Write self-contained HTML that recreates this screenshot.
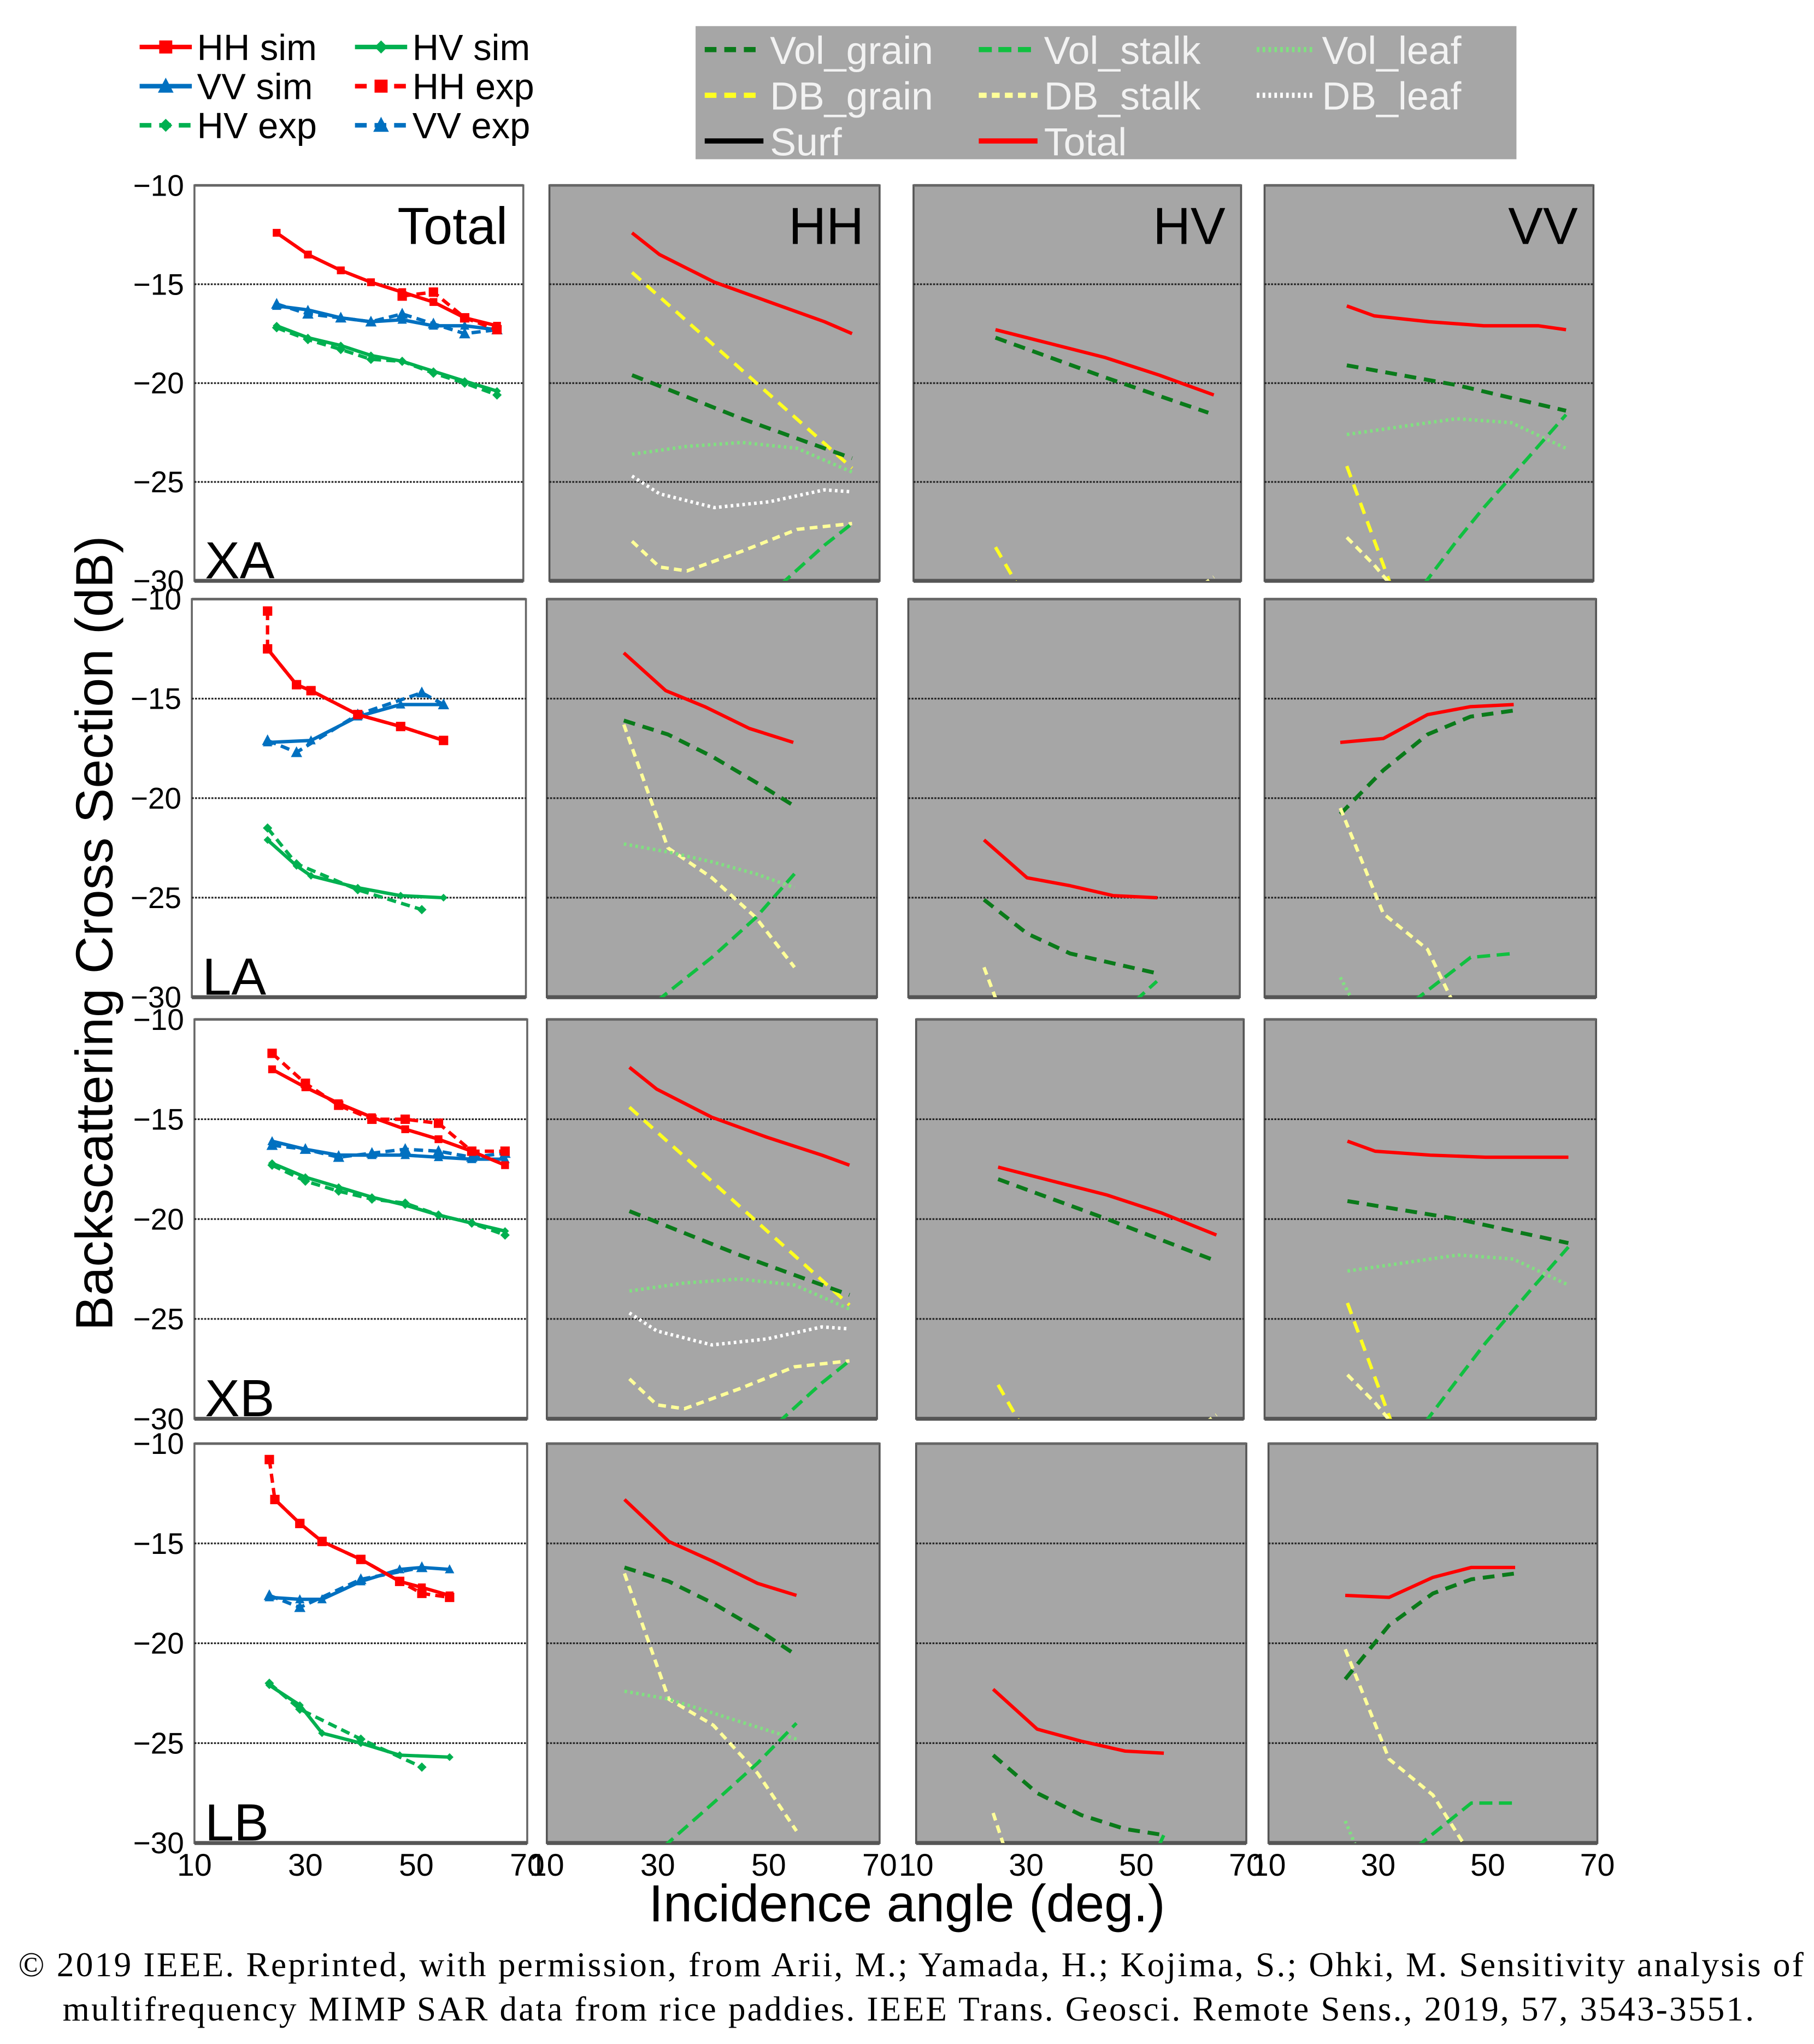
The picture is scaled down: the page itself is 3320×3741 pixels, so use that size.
<!DOCTYPE html>
<html><head><meta charset="utf-8"><style>
html,body{margin:0;padding:0;background:#fff}
svg{display:block}
text{font-family:"Liberation Sans",sans-serif}
</style></head><body>
<svg id="fig" xmlns="http://www.w3.org/2000/svg" width="3320" height="3741" viewBox="0 0 1390 1566" preserveAspectRatio="none">
<rect x="0" y="0" width="1390" height="1566" fill="#fff"/>
<g id="panels"></g>
<g id="legend-left"></g>
<g id="legend-right">
<rect x="533" y="20" width="629" height="102" fill="#a6a6a6"/>
</g>
<text x="0" y="0" transform="translate(86,715) rotate(-90)" text-anchor="middle" font-size="40" fill="#000">Backscattering Cross Section (dB)</text>
<text x="695" y="1472" text-anchor="middle" font-size="40" fill="#000">Incidence angle (deg.)</text>
<text x="14" y="1514" font-family="Liberation Serif" font-size="26.5" textLength="1368" lengthAdjust="spacing" fill="#000" style="font-family:'Liberation Serif',serif">© 2019 IEEE. Reprinted, with permission, from Arii, M.; Yamada, H.; Kojima, S.; Ohki, M. Sensitivity analysis of</text>
<text x="48" y="1548" font-size="26.5" textLength="1296" lengthAdjust="spacing" fill="#000" style="font-family:'Liberation Serif',serif">multifrequency MIMP SAR data from rice paddies. IEEE Trans. Geosci. Remote Sens., 2019, 57, 3543-3551.</text>
</svg>
<script>
// ---------- data (angle deg, dB) ----------
const yTicks = [-10, -15, -20, -25, -30];
const xTicks = [10, 30, 50, 70];
const rowNames = ["XA", "LA", "XB", "LB"];
const colNames = ["Total", "HH", "HV", "VV"];

// XA total
const xa_hh_sim = [[25,-12.4],[30.7,-13.5],[36.7,-14.3],[42.2,-14.9],[47.9,-15.4],[53.6,-15.9],[59.3,-16.7],[65.2,-17.1]];
const xa_hh_exp = [[47.9,-15.6],[53.6,-15.4],[59.3,-16.7],[65.2,-17.3]];
const xa_vv_sim = [[25,-16.1],[30.7,-16.3],[36.7,-16.7],[42.2,-16.9],[47.9,-16.8],[53.6,-17.1],[59.3,-17.1],[65.2,-17.3]];
const xa_vv_exp = [[25,-16.0],[30.7,-16.5],[36.7,-16.7],[42.2,-16.9],[47.9,-16.5],[53.6,-17.0],[59.3,-17.5],[65.2,-17.3]];
const xa_hv_sim = [[25,-17.1],[30.7,-17.7],[36.7,-18.1],[42.2,-18.6],[47.9,-18.9],[53.6,-19.4],[59.3,-19.9],[65.2,-20.4]];
const xa_hv_exp = [[25,-17.2],[30.7,-17.8],[36.7,-18.3],[42.2,-18.8],[47.9,-18.9],[53.6,-19.5],[59.3,-20.0],[65.2,-20.6]];
// LA total
const la_hh_sim = [[23.6,-12.5],[28.8,-14.3],[31.4,-14.6],[39.8,-15.8],[47.5,-16.4],[55.2,-17.1]];
const la_hh_exp = [[23.6,-10.6],[23.6,-12.5],[28.8,-14.3],[31.4,-14.6],[39.8,-15.8],[47.5,-16.4],[55.2,-17.1]];
const la_vv_sim = [[23.6,-17.2],[31.4,-17.1],[39.8,-15.9],[47.5,-15.3],[55.2,-15.3]];
const la_vv_exp = [[23.6,-17.1],[28.8,-17.7],[39.8,-15.8],[51.3,-14.7],[55.2,-15.3]];
const la_hv_sim = [[23.6,-22.1],[28.8,-23.4],[31.4,-23.9],[39.8,-24.5],[47.5,-24.9],[55.2,-25.0]];
const la_hv_exp = [[23.6,-21.5],[28.8,-23.3],[39.8,-24.6],[51.3,-25.6]];
// XB total
const xb_hh_sim = [[24,-12.5],[30,-13.4],[36,-14.2],[42,-14.9],[48,-15.5],[54,-16.0],[60,-16.6],[66,-17.3]];
const xb_hh_exp = [[24,-11.7],[30,-13.2],[36,-14.3],[42,-15.0],[48,-15.0],[54,-15.2],[60,-16.6],[66,-16.6]];
const xb_vv_sim = [[24,-16.1],[30,-16.5],[36,-16.8],[42,-16.8],[48,-16.8],[54,-16.9],[60,-17.0],[66,-17.0]];
const xb_vv_exp = [[24,-16.3],[30,-16.5],[36,-16.9],[42,-16.7],[48,-16.5],[54,-16.6],[60,-16.9],[66,-16.7]];
const xb_hv_sim = [[24,-17.2],[30,-17.9],[36,-18.4],[42,-18.9],[48,-19.3],[54,-19.8],[60,-20.2],[66,-20.6]];
const xb_hv_exp = [[24,-17.3],[30,-18.1],[36,-18.6],[42,-19.0],[48,-19.2],[54,-19.8],[60,-20.2],[66,-20.8]];
// LB total
const lb_hh_sim = [[24.5,-12.8],[29,-14.0],[33,-14.9],[40,-15.8],[47,-16.9],[51,-17.2],[56,-17.6]];
const lb_hh_exp = [[23.5,-10.8],[24.5,-12.8],[29,-14.0],[33,-14.9],[40,-15.8],[47,-16.9],[51,-17.5],[56,-17.7]];
const lb_vv_sim = [[23.5,-17.7],[29,-17.8],[33,-17.8],[40,-16.9],[47,-16.3],[51,-16.2],[56,-16.3]];
const lb_vv_exp = [[23.5,-17.6],[29,-18.2],[40,-16.8],[51,-16.2]];
const lb_hv_sim = [[23.5,-22.1],[29,-23.1],[33,-24.5],[40,-25.0],[47,-25.6],[56,-25.7]];
const lb_hv_exp = [[23.5,-22.0],[29,-23.3],[40,-24.8],[51,-26.2]];

// XA components
const xa_HH_total = [[25,-12.4],[30,-13.5],[40,-14.9],[50,-15.9],[60,-16.9],[65,-17.5]];
const xa_HH_dbgrain = [[25,-14.4],[65,-24.3]];
const xa_HH_volgrain = [[25,-19.6],[45,-21.8],[65,-23.8]];
const xa_HH_volleaf = [[25,-23.6],[35,-23.2],[45,-23.0],[55,-23.3],[65,-24.5]];
const xa_HH_dbleaf = [[25,-24.7],[30,-25.6],[40,-26.3],[50,-26.0],[60,-25.4],[65,-25.5]];
const xa_HH_dbstalk = [[25,-28.0],[30,-29.3],[35,-29.5],[45,-28.5],[55,-27.4],[65,-27.1]];
const xa_HH_volstalk = [[52,-30.2],[60,-28.2],[65,-27.1]];
const xa_HV_total = [[25,-17.3],[35,-18.0],[45,-18.7],[55,-19.6],[65,-20.6]];
const xa_HV_volgrain = [[25,-17.7],[45,-19.7],[64,-21.5]];
const xa_HV_dbgrain = [[25,-28.3],[29,-30.2]];
const xa_HV_dbstalk = [[63,-30.2],[65,-29.8]];
const xa_VV_total = [[25,-16.1],[30,-16.6],[40,-16.9],[50,-17.1],[60,-17.1],[65,-17.3]];
const xa_VV_volgrain = [[25,-19.1],[45,-20.1],[65,-21.4]];
const xa_VV_volleaf = [[25,-22.6],[35,-22.2],[45,-21.8],[55,-22.0],[65,-23.3]];
const xa_VV_volstalk = [[39,-30.2],[45,-28],[50,-26.3],[58,-23.8],[65,-21.6]];
const xa_VV_dbgrain = [[25,-24.2],[33,-30.2]];
const xa_VV_dbstalk = [[25,-27.8],[30,-29.2],[33,-30.2]];
// XB components
const xb_HH_total = [[25,-12.4],[30,-13.5],[40,-14.9],[50,-15.9],[60,-16.8],[65,-17.3]];
const xb_HV_total = [[25,-17.4],[35,-18.1],[45,-18.8],[55,-19.7],[65,-20.8]];
const xb_HV_volgrain = [[25,-18.0],[45,-20.0],[64,-22.0]];
const xb_VV_total = [[25,-16.1],[30,-16.6],[40,-16.8],[50,-16.9],[60,-16.9],[65,-16.9]];
const xb_VV_volgrain = [[25,-19.1],[45,-20.0],[65,-21.2]];
const xb_VV_volstalk = [[39,-30.2],[45,-28],[50,-26.2],[58,-23.6],[65,-21.4]];
// LA components
const la_HH_total = [[24,-12.7],[31.6,-14.6],[38.7,-15.4],[46.8,-16.5],[54.8,-17.2]];
const la_HH_volgrain = [[24,-16.1],[32,-16.8],[40,-17.9],[48,-19.2],[55,-20.4]];
const la_HH_dbstalk = [[24,-16.3],[32,-22.5],[40,-24.0],[48,-26.0],[55,-28.5]];
const la_HH_volleaf = [[24,-22.3],[32,-22.7],[40,-23.2],[48,-23.8],[55,-24.5]];
const la_HH_volstalk = [[30,-30.2],[40,-28],[48,-26],[55,-23.8]];
const la_HV_total = [[23.7,-22.1],[31.5,-24.0],[39.3,-24.4],[47.1,-24.9],[55.1,-25.0]];
const la_HV_volgrain = [[23.7,-25.1],[31.5,-26.8],[39.3,-27.8],[47.1,-28.3],[55,-28.8]];
const la_HV_dbstalk = [[23.7,-28.5],[26,-30.2]];
const la_HV_volstalk = [[51,-30.2],[55,-29.2]];
const la_VV_total = [[23.7,-17.2],[31.5,-17.0],[39.5,-15.8],[47.3,-15.4],[55.1,-15.3]];
const la_VV_volgrain = [[23.7,-20.8],[31.5,-18.6],[39.5,-16.8],[47.3,-15.9],[55.1,-15.6]];
const la_VV_dbstalk = [[23.7,-20.5],[31.5,-25.8],[39.5,-27.6],[44,-30.2]];
const la_VV_volstalk = [[37,-30.2],[47.3,-28.0],[55.1,-27.8]];
const la_VV_volleaf = [[23.7,-29.0],[26,-30.2]];
// LB components
const lb_HH_total = [[24,-12.8],[32,-14.9],[40,-15.9],[48,-17.0],[55,-17.6]];
const lb_HH_volgrain = [[24,-16.2],[32,-16.9],[40,-18.0],[48,-19.3],[55,-20.6]];
const lb_HH_dbstalk = [[24,-16.5],[32,-22.8],[40,-24.1],[48,-26.5],[55,-29.4]];
const lb_HH_volleaf = [[24,-22.4],[32,-22.8],[40,-23.5],[48,-24.2],[55,-24.8]];
const lb_HH_volstalk = [[31,-30.2],[40,-28],[48,-26],[55,-24.0]];
const lb_HV_total = [[24,-22.3],[32,-24.3],[40,-24.9],[48,-25.4],[55,-25.5]];
const lb_HV_volgrain = [[24,-25.6],[32,-27.5],[40,-28.6],[48,-29.3],[55,-29.6]];
const lb_HV_dbstalk = [[24,-28.5],[26,-30.2]];
const lb_HV_volstalk = [[54,-30.2],[55,-29.6]];
const lb_VV_total = [[24,-17.6],[32,-17.7],[40,-16.7],[47,-16.2],[55,-16.2]];
const lb_VV_volgrain = [[24,-21.8],[32,-19.1],[40,-17.5],[47,-16.8],[55,-16.5]];
const lb_VV_dbstalk = [[24,-20.3],[32,-25.8],[40,-27.6],[46,-30.2]];
const lb_VV_volstalk = [[37,-30.2],[47,-28.0],[55,-28.0]];
const lb_VV_volleaf = [[24,-28.9],[26,-30.2]];

// ---------- layout ----------
const NS = "http://www.w3.org/2000/svg";
const rowsY = [[142,445],[459,764],[781,1087],[1106,1412]];
const colsX = [
  [[149,401],[421,674],[700,951],[969,1221]],
  [[147,403],[419,672],[696,950],[969,1223]],
  [[149,404],[419,672],[702,953],[969,1223]],
  [[149,404],[419,674],[702,955],[972,1224]]
];
const STY = {
  total:{c:"#ff0000",w:2.6,d:""},
  volgrain:{c:"#0a7a1a",w:3,d:"9 6"},
  volstalk:{c:"#10c040",w:2.6,d:"10 5"},
  volleaf:{c:"#80e080",w:2.6,d:"2 2.5"},
  dbgrain:{c:"#ffff20",w:2.6,d:"9 6"},
  dbstalk:{c:"#ffff99",w:2.6,d:"6 4"},
  dbleaf:{c:"#ffffff",w:2.6,d:"2 2.5"}
};
function el(tag, attrs, parent){const e=document.createElementNS(NS,tag);for(const k in attrs)e.setAttribute(k,attrs[k]);if(parent)parent.appendChild(e);return e;}
function scales(r,c){const [x0,x1]=colsX[r][c],[y0,y1]=rowsY[r];
  return {x:a=>x0+(a-10)/60*(x1-x0), y:v=>y0+(-10-v)/20*(y1-y0), x0,x1,y0,y1};}
function pts(s,arr){return arr.map(p=>s.x(p[0]).toFixed(1)+","+s.y(p[1]).toFixed(1)).join(" ");}

const panelsG=document.getElementById("panels");
const comps = [
 {HH:{total:xa_HH_total,dbgrain:xa_HH_dbgrain,volgrain:xa_HH_volgrain,volleaf:xa_HH_volleaf,dbleaf:xa_HH_dbleaf,dbstalk:xa_HH_dbstalk,volstalk:xa_HH_volstalk},
  HV:{volgrain:xa_HV_volgrain,total:xa_HV_total,dbgrain:xa_HV_dbgrain,dbstalk:xa_HV_dbstalk},
  VV:{volgrain:xa_VV_volgrain,volleaf:xa_VV_volleaf,volstalk:xa_VV_volstalk,dbgrain:xa_VV_dbgrain,dbstalk:xa_VV_dbstalk,total:xa_VV_total}},
 {HH:{volgrain:la_HH_volgrain,dbstalk:la_HH_dbstalk,volleaf:la_HH_volleaf,volstalk:la_HH_volstalk,total:la_HH_total},
  HV:{volgrain:la_HV_volgrain,dbstalk:la_HV_dbstalk,volstalk:la_HV_volstalk,total:la_HV_total},
  VV:{volgrain:la_VV_volgrain,dbstalk:la_VV_dbstalk,volstalk:la_VV_volstalk,volleaf:la_VV_volleaf,total:la_VV_total}},
 {HH:{total:xb_HH_total,dbgrain:xa_HH_dbgrain,volgrain:xa_HH_volgrain,volleaf:xa_HH_volleaf,dbleaf:xa_HH_dbleaf,dbstalk:xa_HH_dbstalk,volstalk:xa_HH_volstalk},
  HV:{volgrain:xb_HV_volgrain,total:xb_HV_total,dbgrain:xa_HV_dbgrain,dbstalk:xa_HV_dbstalk},
  VV:{volgrain:xb_VV_volgrain,volleaf:xa_VV_volleaf,volstalk:xb_VV_volstalk,dbgrain:xa_VV_dbgrain,dbstalk:xa_VV_dbstalk,total:xb_VV_total}},
 {HH:{volgrain:lb_HH_volgrain,dbstalk:lb_HH_dbstalk,volleaf:lb_HH_volleaf,volstalk:lb_HH_volstalk,total:lb_HH_total},
  HV:{volgrain:lb_HV_volgrain,dbstalk:lb_HV_dbstalk,volstalk:lb_HV_volstalk,total:lb_HV_total},
  VV:{volgrain:lb_VV_volgrain,dbstalk:lb_VV_dbstalk,volstalk:lb_VV_volstalk,volleaf:lb_VV_volleaf,total:lb_VV_total}}
];
const totals = [
 {hh_sim:xa_hh_sim,hh_exp:xa_hh_exp,vv_sim:xa_vv_sim,vv_exp:xa_vv_exp,hv_sim:xa_hv_sim,hv_exp:xa_hv_exp},
 {hh_sim:la_hh_sim,hh_exp:la_hh_exp,vv_sim:la_vv_sim,vv_exp:la_vv_exp,hv_sim:la_hv_sim,hv_exp:la_hv_exp},
 {hh_sim:xb_hh_sim,hh_exp:xb_hh_exp,vv_sim:xb_vv_sim,vv_exp:xb_vv_exp,hv_sim:xb_hv_sim,hv_exp:xb_hv_exp},
 {hh_sim:lb_hh_sim,hh_exp:lb_hh_exp,vv_sim:lb_vv_sim,vv_exp:lb_vv_exp,hv_sim:lb_hv_sim,hv_exp:lb_hv_exp}
];
const TCOL={hh:"#ff0000",vv:"#0070c0",hv:"#00b050"};
function marker(g,kind,x,y,col,sz){
  let m;
  if(kind==="hh") m=el("rect",{x:x-sz,y:y-sz,width:2*sz,height:2*sz,fill:col},g);
  else if(kind==="vv") m=el("polygon",{points:`${x},${y-sz*1.3} ${x-sz*1.2},${y+sz} ${x+sz*1.2},${y+sz}`,fill:col},g);
  else m=el("polygon",{points:`${x},${y-sz} ${x+sz},${y} ${x},${y+sz} ${x-sz},${y}`,fill:col},g);
  
  
}

for(let r=0;r<4;r++){
  for(let c=0;c<4;c++){
    const s=scales(r,c);
    const g=el("g",{},panelsG);
    
    
    const cid="clip"+r+c;
    const cp=el("clipPath",{id:cid},g); el("rect",{x:s.x0,y:s.y0,width:s.x1-s.x0,height:s.y1-s.y0},cp);
    const bg=el("rect",{x:s.x0,y:s.y0,width:s.x1-s.x0,height:s.y1-s.y0,fill:c===0?"#fff":"#a6a6a6",stroke:c===0?"#666":"#555","stroke-width":1.5},g);
    
    
    // bottom/top thicker line
    el("line",{x1:s.x0,x2:s.x1,y1:s.y1,y2:s.y1,stroke:"#555","stroke-width":3},g);
    el("line",{x1:s.x0,x2:s.x1,y1:s.y0,y2:s.y0,stroke:"#666","stroke-width":2},g);
    for(const t of [-15,-20,-25]){
      const gl=el("line",{x1:s.x0,x2:s.x1,y1:s.y(t),y2:s.y(t),stroke:"#222","stroke-width":1.3,"stroke-dasharray":"1.5 1"},g);
      
      
    }
    const lg=el("g",{"clip-path":`url(#${cid})`},g);
    if(c===0){
      const T=totals[r];
      for(const k of ["hv","vv","hh"]){
        for(const t of ["exp","sim"]){
          const arr=T[k+"_"+t];
          const pl=el("polyline",{points:pts(s,arr),fill:"none",stroke:TCOL[k],"stroke-width":2.6,"stroke-dasharray":t==="exp"?"7 4":""},lg);
          
          
          for(const p of arr) marker(lg,k,s.x(p[0]),s.y(p[1]),TCOL[k],t==="exp"?3.6:3);
        }
      }
    } else {
      const C=comps[r][colNames[c]];
      for(const k in C){
        const st=STY[k];
        const pl=el("polyline",{points:pts(s,C[k]),fill:"none",stroke:st.c,"stroke-width":st.w,"stroke-dasharray":st.d,"stroke-linejoin":"round"},lg);
        
        
      }
    }
    if(r===0){
      const tt=el("text",{x:s.x1-12,y:s.y0+45,"text-anchor":"end","font-size":40,fill:"#000"},g);
      tt.textContent=colNames[c];
      
      
    }
    if(c===0){
      const rl=el("text",{x:s.x0+8,y:s.y1-2,"font-size":40,fill:"#000"},g);
      rl.textContent=rowNames[r];
      
      
      for(const t of yTicks){
        const yl=el("text",{x:s.x0-8,y:s.y(t)+8,"text-anchor":"end","font-size":23,fill:"#000"},g);
        yl.textContent="\u2212"+Math.abs(t);
        
        
      }
    }
    if(r===3){
      for(const t of xTicks){
        const xl=el("text",{x:s.x(t),y:1437,"text-anchor":"middle","font-size":24,fill:"#000"},g);
        xl.textContent=t;
        
        
      }
    }
  }
}

// left legend
const LL=document.getElementById("legend-left");
const llItems=[["hh","sim","HH sim",107,43],["hv","sim","HV sim",272,43],["vv","sim","VV sim",107,73],["hh","exp","HH exp",272,73],["hv","exp","HV exp",107,103],["vv","exp","VV exp",272,103]];
for(const it of llItems){
  const g=el("g",{},LL);
  
  
  el("line",{x1:it[3],x2:it[3]+40,y1:it[4]-7,y2:it[4]-7,stroke:TCOL[it[0]],"stroke-width":3.5,"stroke-dasharray":it[1]==="exp"?"9 6":""},g);
  marker(g,it[0],it[3]+20,it[4]-7,TCOL[it[0]],5);
  const t=el("text",{x:it[3]+44,y:it[4]+3,"font-size":28,fill:"#000"},g); t.textContent=it[2];
}
// right legend
const LR=document.getElementById("legend-right");
const lrItems=[["volgrain","Vol_grain",540,38],["volstalk","Vol_stalk",750,38],["volleaf","Vol_leaf",963,38],
 ["dbgrain","DB_grain",540,73],["dbstalk","DB_stalk",750,73],["dbleaf","DB_leaf",963,73],["surf","Surf",540,108],["total","Total",750,108]];
for(const it of lrItems){
  const g=el("g",{},LR);
  
  
  const st=it[0]==="surf"?{c:"#000",w:3.5,d:""}:STY[it[0]];
  el("line",{x1:it[2],x2:it[2]+45,y1:it[3],y2:it[3],stroke:st.c,"stroke-width":4,"stroke-dasharray":st.d},g);
  const t=el("text",{x:it[2]+50,y:it[3]+11,"font-size":30,fill:"#f2f2f2"},g); t.textContent=it[1];
}
</script>
</body></html>
